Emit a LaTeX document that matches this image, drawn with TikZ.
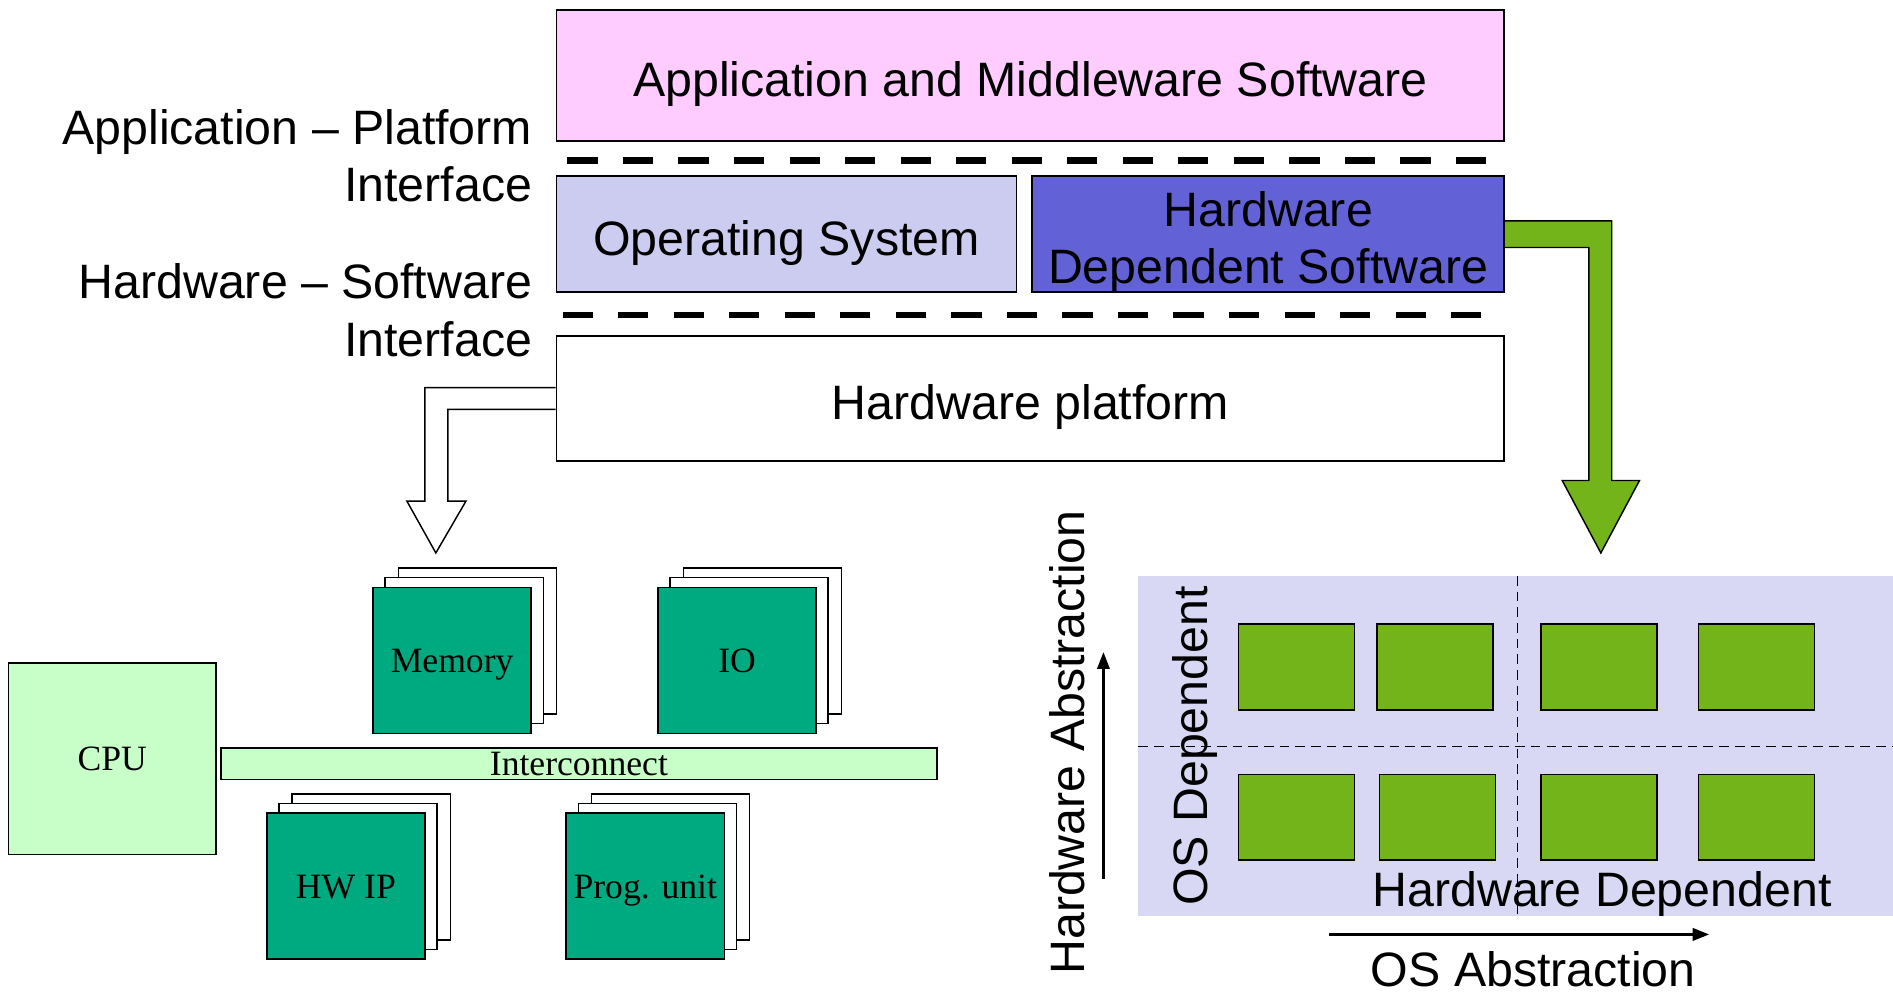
\documentclass[tikz,border=0pt]{standalone}
\usepackage{fontspec}
\setmainfont{Liberation Sans}
\newfontfamily\seriffont{Liberation Serif}
\usetikzlibrary{arrows.meta}

\definecolor{apppink}{RGB}{255,204,255}
\definecolor{oslav}{RGB}{204,204,240}
\definecolor{hdsblue}{RGB}{98,98,214}
\definecolor{leafgreen}{RGB}{115,180,26}
\definecolor{chipteal}{RGB}{0,170,128}
\definecolor{palegreen}{RGB}{200,255,200}
\definecolor{panellav}{RGB}{216,216,244}

\newcommand\sanslarge{\fontsize{40}{48}\selectfont}
\newcommand\seriftext{\seriffont\fontsize{29.5}{33}\selectfont}

\tikzset{
  layer/.style={draw=black, line width=1.5pt, inner sep=0pt, font=\sanslarge, align=center,
    text height=35pt, text depth=0pt},
  ifline/.style={line width=5.5pt, dash pattern=on 25pt off 21pt},
  sidelabel/.style={anchor=east, align=right, inner sep=0pt, font=\sanslarge},
  sheet/.style={draw=black, line width=1.2pt, fill=white, minimum width=131pt, minimum height=121pt, inner sep=0pt},
  chip/.style={sheet, fill=chipteal, font=\seriftext, text height=20pt, text depth=0pt},
  hwbox/.style={draw=black, line width=1.2pt, fill=palegreen, inner sep=0pt, font=\seriftext,
    text height=20pt, text depth=0pt},
  cell/.style={draw=black, line width=1.2pt, fill=leafgreen, minimum width=96pt, minimum height=71pt, inner sep=0pt},
  gridline/.style={line width=1.2pt, dash pattern=on 8pt off 5pt},
  axis/.style={line width=3pt, -{Triangle[length=14pt,width=10pt]}},
  plain/.style={inner sep=0pt, font=\sanslarge}
}

\begin{document}
\begin{tikzpicture}[x=1pt,y=-1pt]
\useasboundingbox (0,0) rectangle (1568,823);

% software / hardware layers
\node[layer, fill=apppink, minimum width=785pt, minimum height=109pt] (app) at (853.5,62.5) {Application and Middleware Software};
\node[layer, fill=oslav, minimum width=381pt, minimum height=96pt] (os) at (651.5,194) {Operating System};
\node[layer, fill=hdsblue, minimum width=391pt, minimum height=96pt, text height=81pt, text depth=0pt] (hds) at (1050.5,194) {Hardware\\[-1pt]Dependent Software};
\node[layer, fill=white, minimum width=785pt, minimum height=104pt] (hwp) at (853.5,330) {Hardware platform};

% interface boundaries
\draw[ifline] (470,133) -- (1240,133);
\draw[ifline] (466,261) -- (1236,261);
\node[sidelabel] (api) at (441,129) {Application – Platform\\Interface};
\node[sidelabel] (hsi) at (441,257) {Hardware – Software\\Interface};

% hollow arrow from the hardware platform down to its components
\draw[line width=1.2pt, fill=white, line join=miter]
  (hwp.west |- 0,321) -- (352,321) -- (352,415) -- (337,415) -- (361,458) -- (386,415)
  -- (371,415) -- (371,339) -- (hwp.west |- 0,339);

% green arrow from the HdS layer down to the matrix
\draw[line width=1.2pt, fill=leafgreen, line join=miter]
  (hds.east |- 0,183) -- (1335,183) -- (1335,398) -- (1358,398) -- (1326,458) -- (1294,398)
  -- (1316,398) -- (1316,205) -- (hds.east |- 0,205);

% hardware platform components
\node[hwbox, minimum width=172pt, minimum height=159pt] (cpu) at (93,628.5) {CPU};
\node[hwbox, minimum width=593pt, minimum height=26pt] (bus) at (479.5,632.5) {Interconnect};

\node[sheet] (mem3) at (395.5,531) {};
\node[sheet] (mem2) at (384.5,539) {};
\node[chip] (mem) at (374.5,547) {Memory};

\node[sheet] (io3) at (631.5,531) {};
\node[sheet] (io2) at (620.5,539) {};
\node[chip] (io) at (610.5,547) {IO};

\node[sheet] (ip3) at (307.5,718) {};
\node[sheet] (ip2) at (296.5,726) {};
\node[chip] (ip) at (286.5,734) {HW IP};

\node[sheet] (pu3) at (555.5,718) {};
\node[sheet] (pu2) at (544.5,726) {};
\node[chip] (pu) at (534.5,734) {Prog. unit};

% HdS classification matrix
\fill[panellav] (943,477) rectangle (1568,759);
\draw[gridline] (1257,477) -- (1257,757);
\draw[gridline] (943,618.5) -- (1568,618.5);

\node[cell] (c11) at (1074,552.5) {};
\node[cell] (c12) at (1188.5,552.5) {};
\node[cell] (c13) at (1324.5,552.5) {};
\node[cell] (c14) at (1455,552.5) {};
\node[cell] (c21) at (1074,677) {};
\node[cell] (c22) at (1190.5,677) {};
\node[cell] (c23) at (1324.5,677) {};
\node[cell] (c24) at (1455,677) {};

\node[plain, rotate=90, text depth=0pt] (osdep) at (986,618) {OS Dependent};
\node[plain, text depth=0pt] (hwdep) at (1327,736) {Hardware Dependent};

% abstraction axes
\coordinate (vlow) at (914,728);
\coordinate (vhigh) at (914,540);
\draw[axis, line width=2.5pt] (vlow) -- (vhigh);
\node[plain, rotate=90] (hwabs) at (884,615) {Hardware Abstraction};

\coordinate (hleft) at (1101,774);
\coordinate (hright) at (1416,774);
\draw[axis] (hleft) -- (hright);
\node[plain] (osabs) at (1270,803) {OS Abstraction};
\end{tikzpicture}
\end{document}
